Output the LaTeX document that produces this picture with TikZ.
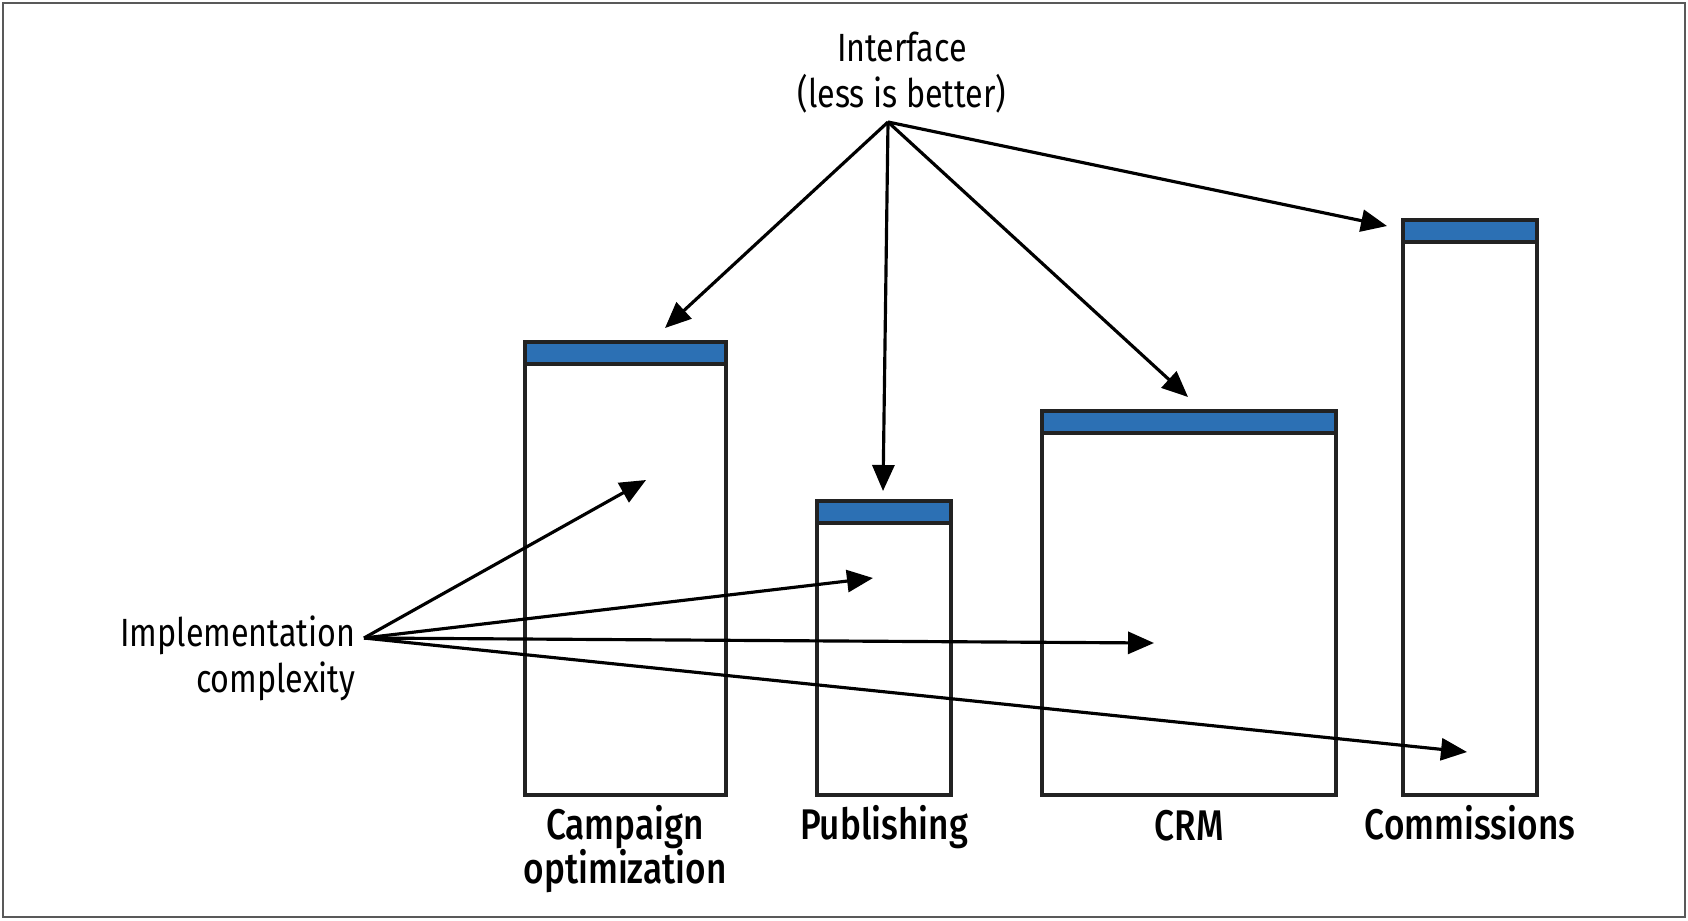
\documentclass[tikz,border=0pt]{standalone}
\usepackage{fontspec}
\setmainfont{Fira Sans}[FakeStretch=0.82]
\newfontfamily\medfont{Fira Sans Medium}[FakeStretch=0.82]
\usepackage{xcolor}
\usetikzlibrary{arrows.meta,positioning}
\definecolor{ifblue}{RGB}{44,112,180}
\definecolor{boxline}{RGB}{34,34,34}

\tikzset{
  modul/.style={draw=boxline, line width=1.2pt},
  iface/.style={draw=boxline, line width=1.2pt, fill=ifblue},
  pfeil/.style={-{Triangle[length=2.6mm,width=2.2mm]}, line width=0.9pt},
  modname/.style={font=\medfont\fontsize{12.2pt}{11.6pt}\selectfont, align=center, anchor=north, inner sep=0pt},
  hinweis/.style={font=\fontsize{11.2pt}{13pt}\selectfont, inner sep=0pt}
}

\begin{document}
\begin{tikzpicture}[x=0.1mm,y=-0.1mm]
\useasboundingbox (0,0) rectangle (1688,920);
\draw[gray!70!black, line width=0.6pt] (3,3) rectangle (1685,917);

% Module
\draw[modul] (525,342) rectangle (726,795);
\draw[iface] (525,342) rectangle (726,364);
\draw[modul] (817,501) rectangle (951,795);
\draw[iface] (817,501) rectangle (951,523);
\draw[modul] (1042,411) rectangle (1336,795);
\draw[iface] (1042,411) rectangle (1336,433);
\draw[modul] (1403,220) rectangle (1537,795);
\draw[iface] (1403,220) rectangle (1537,242);

% Beschriftung
\node[modname] (camp) at (625,805) {Campaign\\[-0.9pt]optimization};
\node[modname] (pub) at (884,805) {Publishing};
\node[modname] (crm) at (1189,810) {CRM};
\node[modname] (comm) at (1470,805) {Commissions};

% Schnittstelle
\node[hinweis, align=center, anchor=south] (iface) at (902,114) {Interface\\(less is better)};
\coordinate (ia) at (665,328);
\coordinate (ib) at (883,491);
\coordinate (ic) at (1188,397);
\coordinate (id) at (1387,226);
\foreach \z in {ia,ib,ic,id}
  \draw[pfeil] (888,122) -- (\z);

% Implementierung
\node[hinweis, align=right, anchor=east] (impl) at (356,658) {Implementation\\complexity};
\coordinate (ka) at (646,480);
\coordinate (kb) at (873,578);
\coordinate (kc) at (1154,643);
\coordinate (kd) at (1467,752);
\foreach \z in {ka,kb,kc,kd}
  \draw[pfeil] (364,638) -- (\z);
\end{tikzpicture}
\end{document}
